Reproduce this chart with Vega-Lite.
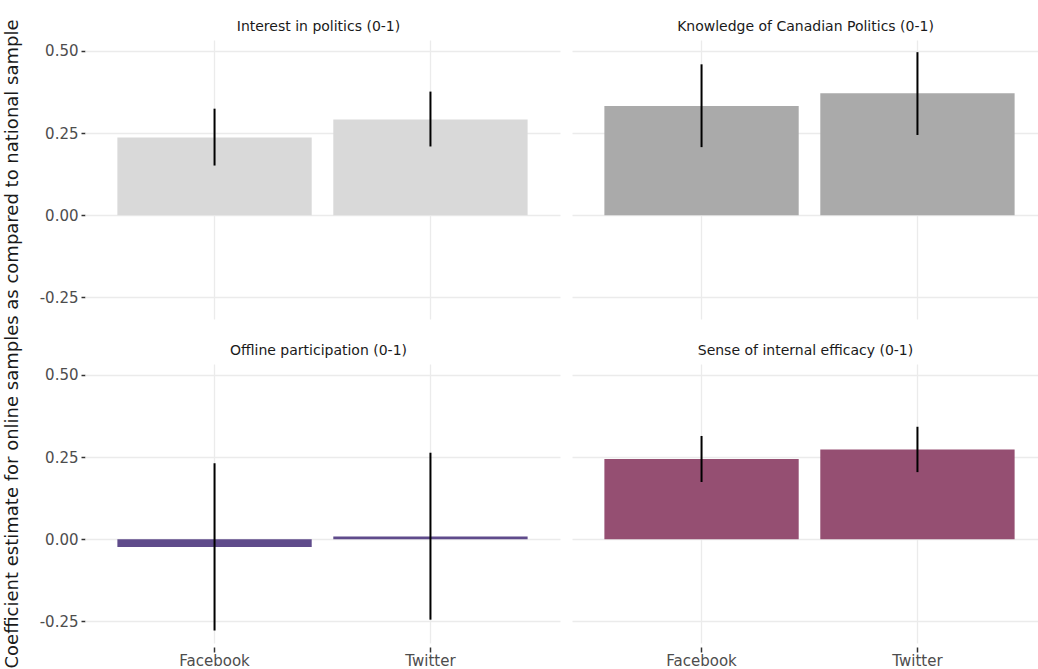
{
  "$schema": "https://vega.github.io/schema/vega-lite/v6.json",
  "background": "white",
  "padding": {"left": 4, "top": 19, "right": 0, "bottom": 0},
  "title": {"text": "Coefficient estimate for online samples as compared to national sample", "orient": "left", "anchor": "middle",
            "fontSize": 18, "fontWeight": "normal", "color": "#1a1a1a", "font": "DejaVu Sans", "offset": 17},
  "data": {"values": [
    {"panel": "Interest in politics (0-1)", "platform": "Facebook", "estimate": 0.236, "lo": 0.151, "hi": 0.324},
    {"panel": "Interest in politics (0-1)", "platform": "Twitter", "estimate": 0.291, "lo": 0.209, "hi": 0.376},
    {"panel": "Knowledge of Canadian Politics (0-1)", "platform": "Facebook", "estimate": 0.332, "lo": 0.207, "hi": 0.459},
    {"panel": "Knowledge of Canadian Politics (0-1)", "platform": "Twitter", "estimate": 0.371, "lo": 0.244, "hi": 0.496},
    {"panel": "Offline participation (0-1)", "platform": "Facebook", "estimate": -0.024, "lo": -0.278, "hi": 0.231},
    {"panel": "Offline participation (0-1)", "platform": "Twitter", "estimate": 0.008, "lo": -0.245, "hi": 0.263},
    {"panel": "Sense of internal efficacy (0-1)", "platform": "Facebook", "estimate": 0.244, "lo": 0.174, "hi": 0.314},
    {"panel": "Sense of internal efficacy (0-1)", "platform": "Twitter", "estimate": 0.273, "lo": 0.204, "hi": 0.342}
  ]},
  "facet": {
    "field": "panel",
    "type": "nominal",
    "title": null,
    "sort": ["Interest in politics (0-1)", "Knowledge of Canadian Politics (0-1)", "Offline participation (0-1)", "Sense of internal efficacy (0-1)"],
    "header": {"labelFontSize": 14, "labelFont": "DejaVu Sans", "labelColor": "#1a1a1a", "labelPadding": 6}
  },
  "columns": 2,
  "spacing": {"row": 23, "column": 12},
  "resolve": {"scale": {"x": "shared", "y": "shared"}},
  "spec": {
    "width": 467,
    "height": 279,
    "layer": [
      {
        "mark": {"type": "bar"},
        "encoding": {
          "x": {
            "field": "platform", "type": "nominal",
            "scale": {"paddingInner": 0.1, "paddingOuter": 0.15, "rangeMax": 475},
            "axis": {"title": null, "labelAngle": 0, "labelFontSize": 15, "labelColor": "#4d4d4d", "labelFont": "DejaVu Sans",
                     "grid": true, "gridColor": "#ebebeb", "gridWidth": 1.3, "bandPosition": 0.5,
                     "ticks": true, "tickSize": 5, "tickColor": "#333333", "tickWidth": 1.5, "offset": 2,
                     "domain": false, "labelPadding": 1}
          },
          "y": {
            "field": "estimate", "type": "quantitative",
            "scale": {"domain": [-0.316, 0.533], "nice": false, "zero": false},
            "axis": {"title": null,
                     "values": [-0.25, 0, 0.25, 0.5],
                     "labelExpr": "datum.value < 0 ? '-' + format(-datum.value, '.2f') : format(datum.value, '.2f')",
                     "labelFontSize": 15, "labelColor": "#4d4d4d", "labelFont": "DejaVu Sans", "labelPadding": 3,
                     "grid": true, "gridColor": "#ebebeb", "gridWidth": 1.3,
                     "ticks": true, "tickSize": 4, "tickColor": "#333333", "tickWidth": 1.5, "domain": false}
          },
          "color": {
            "field": "panel", "type": "nominal", "legend": null,
            "scale": {"domain": ["Interest in politics (0-1)", "Knowledge of Canadian Politics (0-1)", "Offline participation (0-1)", "Sense of internal efficacy (0-1)"],
                      "range": ["#d9d9d9", "#aaaaaa", "#5f4b8b", "#954f72"]}
          }
        }
      },
      {
        "mark": {"type": "rule", "color": "black", "strokeWidth": 2},
        "encoding": {
          "x": {"field": "platform", "type": "nominal"},
          "y": {"field": "lo", "type": "quantitative"},
          "y2": {"field": "hi"}
        }
      }
    ]
  },
  "config": {
    "view": {"stroke": null},
    "font": "DejaVu Sans"
  }
}
